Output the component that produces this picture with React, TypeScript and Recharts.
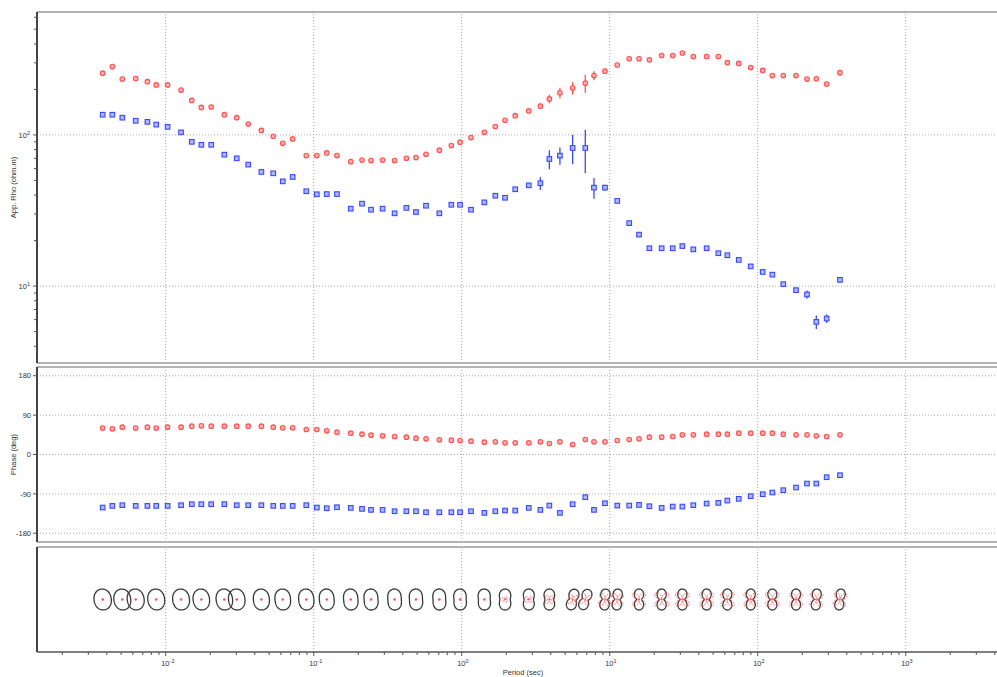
import React from 'react';
import { ScatterChart, Scatter, XAxis, YAxis, ErrorBar, ReferenceLine } from 'recharts';

// ---------------- data ----------------
const periods = [
  0.00375, 0.00436, 0.00509, 0.00627, 0.00752, 0.00863, 0.0103, 0.0127, 0.015, 0.0174,
  0.0203, 0.0249, 0.0302, 0.0361, 0.0443, 0.0533, 0.0618, 0.0721, 0.0891, 0.105,
  0.1225, 0.1436, 0.178, 0.212, 0.244, 0.292, 0.352, 0.423, 0.491, 0.574,
  0.706, 0.851, 0.975, 1.156, 1.422, 1.687, 1.963, 2.3, 2.84, 3.4,
  3.91, 4.61, 5.62, 6.84, 7.83, 9.29, 11.25, 13.55, 15.78, 18.54,
  22.44, 26.67, 30.97, 36.73, 45.19, 54.2, 62.37, 74.47, 89.74, 108.1,
  125.6, 148.9, 181.6, 215.3, 248.9, 292.4, 359.7,
];

const rhoXY = [
  256, 283, 234, 236, 225, 214, 214, 198, 169, 152,
  153, 136, 130, 118, 107, 98, 88, 94, 73, 73,
  76, 73, 66.5, 68.2, 67.6, 68.2, 67.6, 70.1, 70.8, 74.5,
  79.3, 85, 89.5, 96, 104, 113.5, 125, 134, 144, 155,
  173, 190, 204, 220, 247, 264, 290, 319, 319, 314,
  335, 335, 348, 330, 330, 330, 301, 297, 279, 267,
  247, 247, 247, 234, 235, 217, 258,
];

const rhoXYErr = [
  0, 0, 0, 0, 0, 0, 0, 0, 0, 0,
  0, 0, 0, 0, 0, 0, 0, 0, 0, 0,
  0, 0, 0, 0, 0, 0, 0, 0, 0, 0,
  0, 0, 0, 0, 0, 0, 0, 0, 0, 7,
  11, 15, 19, 30, 17, 0, 0, 0, 0, 0,
  0, 0, 0, 0, 0, 0, 0, 0, 0, 0,
  0, 0, 0, 0, 0, 0, 12,
];

const rhoYX = [
  136, 136, 130, 124, 122, 117, 113, 104, 90, 86,
  86, 74, 70, 63.6, 56.9, 55.7, 49.3, 52.7, 42.4, 40.5,
  40.6, 40.6, 32.5, 35.1, 32, 32.5, 30.3, 32.9, 30.9, 34,
  30.3, 34.5, 34.5, 32, 35.8, 39.6, 38.4, 43.7, 46.4, 47.9,
  69.3, 72.9, 82, 82, 44.8, 44.8, 36.6, 26.1, 21.9, 17.8,
  17.8, 17.8, 18.4, 17.5, 17.8, 16.5, 16, 14.9, 13.5, 12.4,
  11.9, 10.3, 9.4, 8.8, 5.8, 6.1, 11,
];

const rhoYXErr = [
  0, 0, 0, 0, 0, 0, 0, 0, 0, 0,
  0, 0, 0, 0, 0, 0, 0, 0, 0, 0,
  0, 0, 0, 0, 0, 0, 0, 0, 0, 0,
  0, 0, 0, 0, 0, 0, 0, 0, 1.5, 4.6,
  10, 9.5, 18, 26, 7, 2, 1, 0, 0, 0,
  0, 0, 0, 0, 0, 0, 0, 0, 0, 0,
  0, 0, 0, 0.55, 0.6, 0.4, 0.5,
];

const phaseXY = [
  60.3, 58.7, 62.5, 60.3, 62.5, 60.3, 62.5, 62.5, 64.8, 65.6,
  64.8, 64.8, 64.8, 64.8, 64.8, 62.5, 61, 61, 57.2, 57.2,
  54.2, 51.1, 48.8, 46.5, 44.2, 42.7, 41.2, 39.7, 37.4, 35.8,
  33.6, 32.8, 32, 30.5, 28.2, 29, 26.7, 26.7, 26.7, 29,
  25.2, 29, 22.9, 34.3, 29, 29, 32, 34.3, 35.8, 39.7,
  39.7, 41.2, 45, 45, 46.5, 46.5, 46.5, 48.8, 48.8, 48.8,
  48.8, 46.5, 45, 45, 42.7, 41.2, 45,
];

const phaseYX = [
  -121.3, -117.5, -115.9, -117.5, -117.5, -117.5, -117.5, -115.9, -113.6, -113.6,
  -113.6, -113.6, -115.9, -115.9, -115.9, -117.5, -117.5, -117.5, -115.9, -121.3,
  -122.8, -120.5, -122, -124.3, -126.6, -126.6, -129.7, -129.7, -129.7, -132,
  -132, -132, -132, -129.7, -133.5, -129.7, -128.1, -128.1, -122, -126.6,
  -116.7, -133.5, -113.6, -97.6, -126.6, -111.4, -116.7, -116.7, -115.2, -118.2,
  -122, -119, -119, -115.9, -112.1, -110.6, -105.3, -101.4, -95.3, -90.8,
  -86.9, -81.6, -75.5, -66.4, -66.4, -51.9, -47.3,
];

const phaseYXErr = [
  0, 0, 0, 0, 0, 0, 0, 0, 0, 0,
  0, 0, 0, 0, 0, 0, 0, 0, 0, 0,
  0, 0, 0, 0, 0, 0, 0, 0, 0, 0,
  0, 0, 0, 0, 0, 0, 0, 0, 0, 0,
  0, 0, 0, 6, 0, 0, 0, 0, 0, 0,
  0, 0, 0, 0, 0, 0, 0, 0, 0, 0,
  0, 0, 0, 0, 0, 0, 0,
];

// polar diagrams (subset of periods)
const polarPeriods = [
  0.00375, 0.00509, 0.00627, 0.00863, 0.0127, 0.0174, 0.0249, 0.0302, 0.0443, 0.0618,
  0.0891, 0.1225, 0.178, 0.244, 0.352, 0.491, 0.706, 0.975, 1.422, 1.963,
  2.84, 3.91, 5.62, 6.84, 9.29, 11.25, 15.78, 22.44, 30.97, 45.19,
  62.37, 89.74, 125.6, 181.6, 248.9, 359.7,
];
// minor/major impedance ratio of the Zxy' polar diagram
const polarRatio = [
  0.82, 0.8, 0.8, 0.8, 0.8, 0.78, 0.78, 0.78, 0.76, 0.74,
  0.72, 0.7, 0.68, 0.66, 0.64, 0.62, 0.6, 0.58, 0.56, 0.5,
  0.45, 0.42, 0.34, 0.3, 0.26, 0.25, 0.24, 0.22, 0.22, 0.22,
  0.2, 0.2, 0.2, 0.2, 0.2, 0.2,
];
// rotation of the polar diagram (degrees)
const polarTilt = [
  -10, -10, -10, -10, -8, -8, -8, -8, -6, -6,
  -6, -5, -5, -4, -4, -3, -3, -2, -2, 0,
  0, 0, 15, 20, 5, 5, 0, 0, 0, 0,
  0, 0, 0, 0, 5, 8,
];
// Zxx / Zxy relative size
const polarSkew = [
  0.12, 0.12, 0.12, 0.12, 0.12, 0.12, 0.12, 0.12, 0.12, 0.12,
  0.12, 0.12, 0.12, 0.12, 0.12, 0.12, 0.15, 0.18, 0.22, 0.3,
  0.4, 0.5, 0.6, 0.65, 0.75, 0.75, 0.8, 0.85, 0.85, 0.85,
  0.85, 0.85, 0.85, 0.8, 0.8, 0.8,
];

const decadeTicks = [0.01, 0.1, 1, 10, 100, 1000];
const rhoTicks = [4, 5, 6, 7, 8, 9, 10, 20, 30, 40, 50, 60, 70, 80, 90, 100, 200, 300, 400, 500, 600];
const rhoGridTicks = [10, 100];
const phaseTicks = [-180, -90, 0, 90, 180];

const X_DOMAIN: [number, number] = [0.00135, 4140];
const RHO_DOMAIN: [number, number] = [3.1, 650];
const PHASE_DOMAIN: [number, number] = [-200, 200];

const periodTicks: number[] = [];
for (let e = -3; e <= 3; e++) {
  for (let m = 1; m <= 9; m++) {
    const v = Number((m * Math.pow(10, e)).toPrecision(3));
    if (v >= X_DOMAIN[0] && v <= X_DOMAIN[1]) periodTicks.push(v);
  }
}

// --------------- table building ---------------
const rhoXYData = periods.map((p, i) => ({ period: p, value: rhoXY[i], err: rhoXYErr[i] }));
const rhoYXData = periods.map((p, i) => ({ period: p, value: rhoYX[i], err: rhoYXErr[i] }));
const phXYData = periods.map((p, i) => ({ period: p, value: phaseXY[i], err: 0 }));
const phYXData = periods.map((p, i) => ({ period: p, value: phaseYX[i], err: phaseYXErr[i] }));
const polarData = polarPeriods.map((p, i) => ({
  period: p,
  value: 0,
  ratio: polarRatio[i],
  tilt: polarTilt[i],
  skew: polarSkew[i],
}));

// --------------- styles ---------------
const FONT = '"Liberation Sans", Arial, Helvetica, sans-serif';
const RED = '#ff5050';
const RED_FILL = '#ffb0b0';
const BLUE = '#3848ff';
const BLUE_FILL = '#b0b6ff';
const GRID = '#a8a8a8';
const TXT = '#333';

const isDecade = (v: number) => Math.abs(Math.log10(v) - Math.round(Math.log10(v))) < 1e-6;

const RedMark = (props: any) => {
  const { cx, cy } = props;
  if (cx == null || cy == null) return null;
  return <circle cx={cx} cy={cy} r={2.3} fill={RED_FILL} stroke={RED} strokeWidth={1.1} />;
};

const BlueMark = (props: any) => {
  const { cx, cy } = props;
  if (cx == null || cy == null) return null;
  return <rect x={cx - 2.3} y={cy - 2.3} width={4.6} height={4.6} fill={BLUE_FILL} stroke={BLUE} strokeWidth={1.1} />;
};

const PolarGlyph = (props: any) => {
  const { cx, cy } = props;
  if (cx == null || cy == null) return null;
  const d = props.payload || props;
  const R = 10.5;
  const t = (d.tilt * Math.PI) / 180;
  let black = '';
  let red = '';
  const N = 96;
  for (let k = 0; k <= N; k++) {
    const th = (k / N) * 2 * Math.PI;
    const c = Math.cos(th - t);
    const s = Math.sin(th - t);
    const r = R * (c * c + d.ratio * s * s);
    const px = cx + r * Math.sin(th);
    const py = cy - r * Math.cos(th);
    black += (k ? 'L' : 'M') + px.toFixed(2) + ',' + py.toFixed(2);
    const rr = R * d.skew * Math.abs(Math.sin(2 * (th - t)));
    const qx = cx + rr * Math.sin(th);
    const qy = cy - rr * Math.cos(th);
    red += (k ? 'L' : 'M') + qx.toFixed(2) + ',' + qy.toFixed(2);
  }
  const small = R * d.skew < 3;
  return (
    <g>
      <path d={black} fill="none" stroke="#3a3a3a" strokeWidth={1.3} />
      {small ? (
        <circle cx={cx} cy={cy} r={1.3} fill={RED} />
      ) : (
        <path d={red} fill="none" stroke={RED} strokeWidth={0.9} strokeDasharray="1.6 1.2" />
      )}
    </g>
  );
};

const RhoTick = (props: any) => {
  const { x, y, payload } = props;
  const v = payload.value;
  const major = rhoGridTicks.includes(v);
  return (
    <g>
      <line x1={x - (major ? 4 : 3)} x2={x} y1={y} y2={y} stroke="#555" strokeWidth={1} />
      {major && (
        <text x={x - 7} y={y + 3} textAnchor="end" fontSize={7.5} fill={TXT} fontFamily={FONT}>
          10<tspan dy={-3} fontSize={5.5}>{Math.round(Math.log10(v))}</tspan>
        </text>
      )}
    </g>
  );
};

const PhaseTick = (props: any) => {
  const { x, y, payload } = props;
  return (
    <g>
      <line x1={x - 4} x2={x} y1={y} y2={y} stroke="#555" strokeWidth={1} />
      <text x={x - 6} y={y + 2.7} textAnchor="end" fontSize={7.5} fill={TXT} fontFamily={FONT}>
        {payload.value}
      </text>
    </g>
  );
};

const PeriodTick = (props: any) => {
  const { x, y, payload } = props;
  const v = payload.value;
  const major = isDecade(v);
  return (
    <g>
      <line x1={x} x2={x} y1={y} y2={y + (major ? 4 : 3)} stroke="#555" strokeWidth={1} />
      {major && (
        <text x={x - 4.5} y={y + 14} textAnchor="start" fontSize={7.5} fill={TXT} fontFamily={FONT}>
          10<tspan dy={-3} fontSize={5.5}>{Math.round(Math.log10(v))}</tspan>
        </text>
      )}
    </g>
  );
};

const vLabel = (text: string) => (p: any) => {
  const vb = p.viewBox || {};
  const cy = (vb.y || 0) + (vb.height || 0) / 2;
  return (
    <text
      transform={`translate(14,${cy}) rotate(-90)`}
      textAnchor="middle"
      dominantBaseline="middle"
      fontSize={7.5}
      fill={TXT}
      fontFamily={FONT}
    >
      {text}
    </text>
  );
};

const xLabel = (p: any) => {
  const vb = p.viewBox || {};
  return (
    <text
      x={(vb.x || 0) + (vb.width || 0) / 2 + 6}
      y={(vb.y || 0) + 23}
      textAnchor="middle"
      fontSize={7.5}
      fill={TXT}
      fontFamily={FONT}
    >
      Period (sec)
    </text>
  );
};

const decadeLines = () =>
  decadeTicks.map((d) => (
    <ReferenceLine key={'v' + d} x={d} stroke={GRID} strokeDasharray="1 2" strokeWidth={1} />
  ));

const Band = ({ top, height, color }: { top: number; height: number; color: string }) => (
  <div style={{ position: 'absolute', left: 37, top, width: 960, height, background: color }} />
);

const LeftLine = ({ top, height }: { top: number; height: number }) => (
  <div style={{ position: 'absolute', left: 36, top, width: 1.5, height, background: '#444' }} />
);

export default function App() {
  return (
    <div
      style={{
        position: 'absolute',
        left: 0,
        top: 0,
        width: 997,
        height: 677,
        background: '#fff',
        overflow: 'hidden',
        fontFamily: FONT,
      }}
    >
      {/* Apparent resistivity */}
      <div style={{ position: 'absolute', left: 0, top: 0 }}>
        <ScatterChart width={997} height={365} margin={{ top: 12, right: 0, bottom: 2, left: 0 }}>
          <XAxis dataKey="period" type="number" scale="log" domain={X_DOMAIN} allowDataOverflow hide />
          <YAxis
            dataKey="value"
            type="number"
            scale="log"
            domain={RHO_DOMAIN}
            allowDataOverflow
            ticks={rhoTicks}
            interval={0}
            width={37}
            tick={(p: any) => <RhoTick {...p} />}
            tickLine={false}
            tickSize={0}
            tickMargin={0}
            axisLine={false}
            label={{ content: vLabel('App. Rho (ohm.m)') } as any}
          />
          {decadeLines()}
          {rhoGridTicks.map((v) => (
            <ReferenceLine key={'h' + v} y={v} stroke={GRID} strokeDasharray="1 2" strokeWidth={1} />
          ))}
          <Scatter data={rhoXYData} shape={RedMark} isAnimationActive={false}>
            <ErrorBar dataKey="err" direction="y" width={0} stroke={RED} strokeWidth={1.3} />
          </Scatter>
          <Scatter data={rhoYXData} shape={BlueMark} isAnimationActive={false}>
            <ErrorBar dataKey="err" direction="y" width={0} stroke={BLUE} strokeWidth={1.3} />
          </Scatter>
        </ScatterChart>
      </div>

      {/* Phase */}
      <div style={{ position: 'absolute', left: 0, top: 365 }}>
        <ScatterChart width={997} height={180} margin={{ top: 2, right: 0, bottom: 3, left: 0 }}>
          <XAxis dataKey="period" type="number" scale="log" domain={X_DOMAIN} allowDataOverflow hide />
          <YAxis
            dataKey="value"
            type="number"
            domain={PHASE_DOMAIN}
            allowDataOverflow
            ticks={phaseTicks}
            interval={0}
            width={37}
            tick={(p: any) => <PhaseTick {...p} />}
            tickLine={false}
            tickSize={0}
            tickMargin={0}
            axisLine={false}
            label={{ content: vLabel('Phase (deg)') } as any}
          />
          {decadeLines()}
          {phaseTicks.map((v) => (
            <ReferenceLine key={'h' + v} y={v} stroke={GRID} strokeDasharray="1 2" strokeWidth={1} />
          ))}
          <Scatter data={phXYData} shape={RedMark} isAnimationActive={false} />
          <Scatter data={phYXData} shape={BlueMark} isAnimationActive={false}>
            <ErrorBar dataKey="err" direction="y" width={0} stroke={BLUE} strokeWidth={1.3} />
          </Scatter>
        </ScatterChart>
      </div>

      {/* Polar diagrams */}
      <div style={{ position: 'absolute', left: 0, top: 545 }}>
        <ScatterChart width={997} height={132} margin={{ top: 2, right: 0, bottom: 0, left: 37 }}>
          <XAxis
            dataKey="period"
            type="number"
            scale="log"
            domain={X_DOMAIN}
            allowDataOverflow
            ticks={periodTicks}
            interval={0}
            height={25}
            tick={(p: any) => <PeriodTick {...p} />}
            tickLine={false}
            tickSize={0}
            tickMargin={0}
            axisLine={{ stroke: '#555', strokeWidth: 1.5 }}
            label={{ content: xLabel } as any}
          />
          <YAxis dataKey="value" type="number" domain={[-1, 1]} hide />
          {decadeLines()}
          <Scatter data={polarData} shape={PolarGlyph} isAnimationActive={false} />
        </ScatterChart>
      </div>

      {/* panel frames */}
      <Band top={11} height={2} color="#b3b3b3" />
      <Band top={362} height={2} color="#b3b3b3" />
      <Band top={366} height={2} color="#b3b3b3" />
      <Band top={541} height={2} color="#b3b3b3" />
      <Band top={546} height={2} color="#b3b3b3" />
      <LeftLine top={12} height={351} />
      <LeftLine top={367} height={175} />
      <LeftLine top={547} height={105} />
    </div>
  );
}
